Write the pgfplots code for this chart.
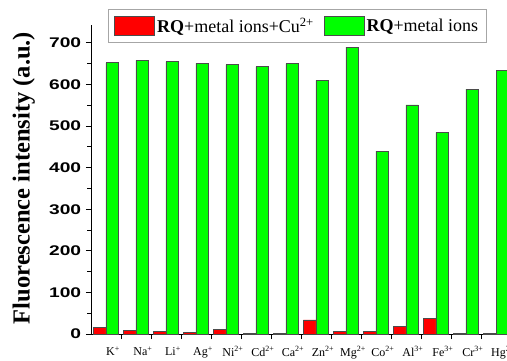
\documentclass[border=0pt]{standalone}
\usepackage{fontspec}
\setmainfont{Liberation Serif}
\newfontfamily\arialf{Liberation Sans}
\usepackage{pgfplots}
\pgfplotsset{compat=1.18}
\definecolor{barred}{RGB}{255,0,0}
\definecolor{bargreen}{RGB}{0,255,0}
\begin{document}
\begin{tikzpicture}
\begin{axis}[
  scale only axis, width=420pt, height=309pt,
  xmin=-0.5, xmax=13.5, ymin=0, ymax=743,
  axis x line*=bottom, axis y line*=left,
  axis line style={line width=0.9pt},
  ybar=0pt, bar width=12.5pt,
  xtick={0.5,1.5,...,13.5},
  xticklabels={K\textsuperscript{+},Na\textsuperscript{+},Li\textsuperscript{+},Ag\textsuperscript{+},Ni\textsuperscript{2+},Cd\textsuperscript{2+},Ca\textsuperscript{2+},Zn\textsuperscript{2+},Mg\textsuperscript{2+},Co\textsuperscript{2+},Al\textsuperscript{3+},Fe\textsuperscript{3+},Cr\textsuperscript{3+},Hg\textsuperscript{2+}},
  xticklabel style={xshift=-8pt, yshift=-4pt, font=\fontsize{12}{12}\selectfont, anchor=north},
  ytick={0,100,...,700},
  minor y tick num=1,
  tick align=outside,
  major tick length=5pt, minor tick length=3.5pt,
  tick style={line width=0.8pt, black},
  yticklabel style={font=\fontsize{14}{14}\selectfont\arialf\bfseries, xscale=1.37},
  /pgf/number format/assume math mode=true,
  ylabel={\fontsize{24.5}{24.5}\selectfont\bfseries Fluorescence intensity (a.u.)},
  ylabel style={at={(axis description cs:-0.16,0.505)}, anchor=center},
  legend columns=2,
  legend style={at={(0.0405,1.0518)}, anchor=north west, draw=gray!70, line width=0.8pt,
    font=\fontsize{18}{18}\selectfont, inner xsep=6pt, inner ysep=6.5pt,
    /tikz/every even column/.append style={column sep=8pt}},
  legend cell align=left,
  legend image code/.code={\draw[#1, line width=0.7pt] (0pt,-9.5pt) rectangle (40pt,9.5pt);},
]
\addplot[fill=barred, draw=black!70, line width=0.7pt] coordinates {
 (0,15) (1,9) (2,7) (3,3) (4,12) (5,1) (6,2) (7,34) (8,6) (9,6) (10,19) (11,37) (12,1) (13,2)};
\addplot[fill=bargreen, draw=black!70, line width=0.7pt] coordinates {
 (0,652) (1,658) (2,655) (3,651) (4,648) (5,643) (6,650) (7,610) (8,690) (9,440) (10,551) (11,485) (12,589) (13,634)};
\legend{\textbf{RQ}+metal ions+Cu\textsuperscript{2+},\textbf{RQ}+metal ions}
\end{axis}
\pgfresetboundingbox
\path[use as bounding box] (-91pt,-26pt) rectangle (416pt,334pt);
\end{tikzpicture}
\end{document}
